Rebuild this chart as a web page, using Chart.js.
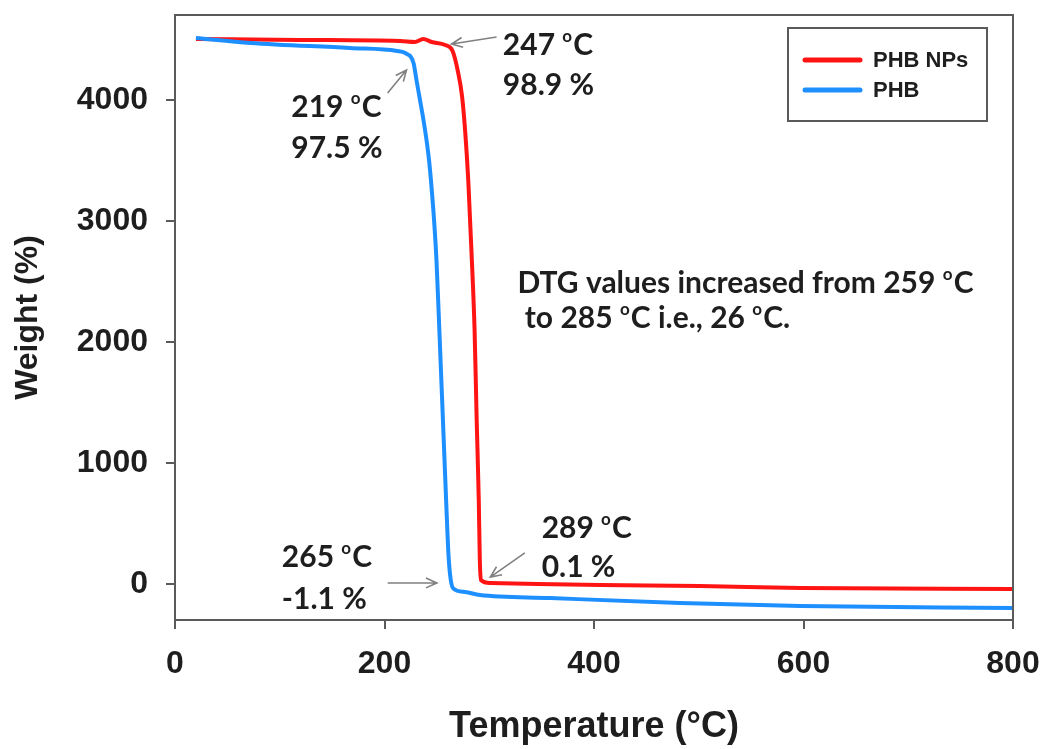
<!DOCTYPE html>
<html>
<head>
<meta charset="utf-8">
<script src="https://cdn.jsdelivr.net/npm/chart.js@4"></script>
<style>
  html, body { margin: 0; padding: 0; background: #fff; }
  #wrap { width: 1043px; height: 749px; }
</style>
</head>
<body>
<div id="wrap"><canvas id="tgaChart" width="1043" height="749"></canvas></div>
<script>
// --- data ---
const phbNpTemp   = [20, 119, 215, 229, 237, 245, 258, 265, 270, 274, 277, 280, 283, 286, 288, 290, 291, 292, 301, 406, 501, 597, 800];
const phbNpWeight = [4502, 4494, 4485, 4477, 4502, 4477, 4452, 4403, 4237, 4031, 3741, 3328, 2750, 2097, 1353, 692, 196, 31, 6, -11, -19, -36, -44];

const phbTemp   = [20, 72, 167, 212, 219.6, 227.7, 230.5, 233.9, 237.2, 240.1, 242.5, 244.4, 247.3, 249.6, 251.6, 253.5, 255.4, 257.3, 259.2, 261.1, 263, 265.4, 277, 291, 358, 482, 597, 800];
const phbWeight = [4510, 4469, 4427, 4403, 4386, 4303, 4163, 3997, 3832, 3667, 3502, 3328, 3006, 2675, 2262, 1849, 1436, 1022, 609, 237, 47, -36, -69, -93, -118, -160, -184, -201];

const seriesNames = ['PHB NPs', 'PHB'];
const xTicks = [0, 200, 400, 600, 800];
const yTicks = [0, 1000, 2000, 3000, 4000];

// annotation text, anchored in data units (temperature, weight)
const noteText   = ['247 °C', '98.9 %', '219 °C', '97.5 %', 'DTG values increased from 259 °C', ' to 285 °C i.e., 26 °C.', '289 °C', '0.1 %', '265 °C', '-1.1 %'];
const noteTemp   = [313, 313, 111, 111, 327, 327, 350, 350, 102, 102];
const noteWeight = [4452, 4121, 3939, 3601, 2485, 2197, 460, 138, 221, -126];

// arrows: [fromT, fromW, toT, toW]
const arrowList = [
  [307, 4518, 264, 4460],
  [203, 4055, 221, 4245],
  [203, 6, 250, 6],
  [334, 254, 301, 55]
];

const RED = '#ff1414';
const BLUE = '#1e8fff';
const INK = '#1e1e1e';
const AXIS = '#5a5a5a';

function toPoints(xs, ys) {
  return xs.map((x, i) => ({ x: x, y: ys[i] }));
}

function drawSupText(ctx, text, x, y, size, family) {
  const parts = text.split('°');
  let cx = x;
  parts.forEach((p, i) => {
    if (i > 0) {
      ctx.font = 'bold ' + Math.round(size * 0.55) + 'px ' + family;
      ctx.fillText('o', cx, y - size * 0.27);
      cx += ctx.measureText('o').width + size * 0.04;
    }
    ctx.font = 'bold ' + size + 'px ' + family;
    ctx.fillText(p, cx, y);
    cx += ctx.measureText(p).width;
  });
}

function drawArrow(ctx, x1, y1, x2, y2) {
  const a = Math.atan2(y2 - y1, x2 - x1);
  const h = 12;
  ctx.beginPath();
  ctx.moveTo(x1, y1);
  ctx.lineTo(x2, y2);
  ctx.moveTo(x2 - h * Math.cos(a - 0.42), y2 - h * Math.sin(a - 0.42));
  ctx.lineTo(x2, y2);
  ctx.lineTo(x2 - h * Math.cos(a + 0.42), y2 - h * Math.sin(a + 0.42));
  ctx.stroke();
}

// frame, arrows, notes and the boxed legend
const extrasPlugin = {
  id: 'extras',
  afterDatasetsDraw(chart) {
    const { ctx, chartArea: ca, scales: { x, y } } = chart;
    ctx.save();

    // top + right border of the plot box
    ctx.strokeStyle = AXIS;
    ctx.lineWidth = 2;
    ctx.beginPath();
    ctx.moveTo(ca.left, ca.top);
    ctx.lineTo(ca.right, ca.top);
    ctx.lineTo(ca.right, ca.bottom);
    ctx.stroke();

    // arrows
    ctx.strokeStyle = '#808080';
    ctx.lineWidth = 1.6;
    arrowList.forEach(a => {
      drawArrow(ctx, x.getPixelForValue(a[0]), y.getPixelForValue(a[1]),
                     x.getPixelForValue(a[2]), y.getPixelForValue(a[3]));
    });

    // notes
    ctx.fillStyle = INK;
    ctx.textAlign = 'left';
    ctx.textBaseline = 'middle';
    noteText.forEach((t, i) => {
      drawSupText(ctx, t, x.getPixelForValue(noteTemp[i]), y.getPixelForValue(noteWeight[i]), 30, 'Lato, "Open Sans", sans-serif');
    });

    // legend box
    const lx = ca.right - 225, ly = ca.top + 13, lw = 199, lh = 93;
    ctx.fillStyle = '#fff';
    ctx.fillRect(lx, ly, lw, lh);
    ctx.strokeStyle = AXIS;
    ctx.lineWidth = 2;
    ctx.strokeRect(lx, ly, lw, lh);
    chart.data.datasets.forEach((ds, i) => {
      const rowY = ly + 32 + i * 30;
      ctx.strokeStyle = ds.borderColor;
      ctx.lineWidth = 5;
      ctx.lineCap = 'round';
      ctx.beginPath();
      ctx.moveTo(lx + 17, rowY);
      ctx.lineTo(lx + 72, rowY);
      ctx.stroke();
      ctx.fillStyle = INK;
      ctx.font = 'bold 22px "Liberation Sans", Arial, sans-serif';
      ctx.fillText(ds.label, lx + 85, rowY + 1);
    });

    ctx.restore();
  }
};

const axisFont = { family: '"Liberation Sans", Arial, sans-serif', weight: 'bold' };

new Chart(document.getElementById('tgaChart'), {
  type: 'line',
  data: {
    datasets: [
      {
        label: seriesNames[0],
        data: toPoints(phbNpTemp, phbNpWeight),
        borderColor: RED,
        borderWidth: 4,
        pointRadius: 0,
        cubicInterpolationMode: 'monotone',
        order: 1
      },
      {
        label: seriesNames[1],
        data: toPoints(phbTemp, phbWeight),
        borderColor: BLUE,
        borderWidth: 4,
        pointRadius: 0,
        cubicInterpolationMode: 'monotone',
        order: 0
      }
    ]
  },
  options: {
    responsive: false,
    animation: false,
    layout: { padding: { top: 15, right: 30, left: 0, bottom: 0 } },
    plugins: { legend: { display: false }, tooltip: { enabled: false } },
    scales: {
      x: {
        type: 'linear',
        min: 0,
        max: 800,
        afterBuildTicks: s => { s.ticks = xTicks.map(v => ({ value: v })); },
        afterFit: s => { s.height = 129; s.paddingLeft = 0; s.paddingRight = 0; },
        border: { display: true, color: AXIS, width: 2 },
        grid: { display: true, drawOnChartArea: false, drawTicks: true, tickLength: 9, color: AXIS, lineWidth: 2 },
        ticks: { font: { ...axisFont, size: 32 }, color: INK, padding: 16, maxRotation: 0, callback: v => String(v) },
        title: { display: true, text: 'Temperature (°C)', font: { ...axisFont, size: 36 }, color: INK, padding: { top: 0, bottom: 0 } }
      },
      y: {
        min: -300,
        max: 4700,
        afterBuildTicks: s => { s.ticks = yTicks.map(v => ({ value: v })); },
        afterFit: s => { s.width = 175; s.paddingTop = 0; s.paddingBottom = 0; },
        border: { display: true, color: AXIS, width: 2 },
        grid: { display: true, drawOnChartArea: false, drawTicks: true, tickLength: 9, color: AXIS, lineWidth: 2 },
        ticks: { font: { ...axisFont, size: 32 }, color: INK, padding: 18, callback: v => String(v) },
        title: { display: true, text: 'Weight (%)', font: { ...axisFont, size: 32 }, color: INK, padding: { top: 9, bottom: 0 } }
      }
    }
  },
  plugins: [extrasPlugin]
});
</script>
</body>
</html>
